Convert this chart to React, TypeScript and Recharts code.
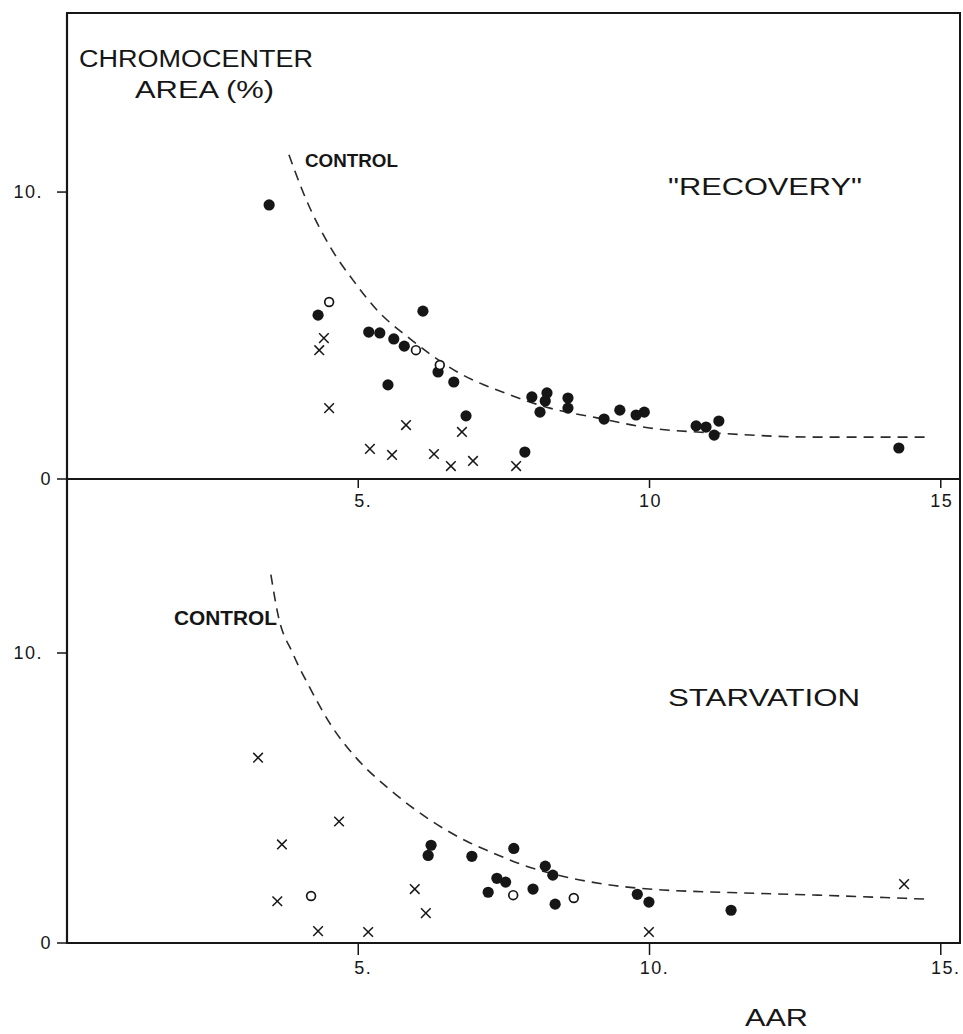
import React from "react";
import { ComposedChart, Scatter, Line, XAxis, YAxis, ReferenceArea } from "recharts";

// ---------- DATA ----------
const xTicks = [5, 10, 15];
const yTicks = [0, 10];
const topXTickLabels: Record<number, string> = { 5: "5.", 10: "10", 15: "15" };
const bottomXTickLabels: Record<number, string> = { 5: "5.", 10: "10.", 15: "15." };
const topYTickLabels: Record<number, string> = { 0: "0", 10: "10." };
const bottomYTickLabels: Record<number, string> = { 0: "0", 10: "10." };

const recoveryFilled = [
  { x: 3.47, y: 9.55 }, { x: 4.31, y: 5.71 }, { x: 6.11, y: 5.85 }, { x: 5.18, y: 5.12 },
  { x: 5.37, y: 5.09 }, { x: 5.61, y: 4.88 }, { x: 5.79, y: 4.63 }, { x: 5.51, y: 3.28 },
  { x: 6.37, y: 3.73 }, { x: 6.64, y: 3.38 }, { x: 6.85, y: 2.2 }, { x: 7.86, y: 0.94 },
  { x: 7.98, y: 2.86 }, { x: 8.12, y: 2.33 }, { x: 8.21, y: 2.72 }, { x: 8.24, y: 3.0 },
  { x: 8.6, y: 2.82 }, { x: 8.6, y: 2.47 }, { x: 9.22, y: 2.09 }, { x: 9.49, y: 2.4 },
  { x: 9.77, y: 2.23 }, { x: 9.91, y: 2.33 }, { x: 10.8, y: 1.85 }, { x: 10.97, y: 1.81 },
  { x: 11.11, y: 1.53 }, { x: 11.19, y: 2.02 }, { x: 14.28, y: 1.08 },
];
const recoveryOpen = [
  { x: 4.5, y: 6.17 }, { x: 5.99, y: 4.49 }, { x: 6.4, y: 3.97 },
];
const recoveryCross = [
  { x: 4.41, y: 4.91 }, { x: 4.33, y: 4.49 }, { x: 4.5, y: 2.47 }, { x: 5.82, y: 1.88 },
  { x: 5.2, y: 1.05 }, { x: 5.58, y: 0.84 }, { x: 6.3, y: 0.87 }, { x: 6.59, y: 0.45 },
  { x: 6.97, y: 0.63 }, { x: 6.78, y: 1.64 }, { x: 7.71, y: 0.45 },
];
const recoveryControl = [
  { x: 3.81, y: 11.3 }, { x: 4.06, y: 9.96 }, { x: 4.52, y: 8.08 }, { x: 4.91, y: 6.93 },
  { x: 5.32, y: 5.89 }, { x: 5.85, y: 4.95 }, { x: 6.7, y: 3.73 }, { x: 7.61, y: 2.93 },
  { x: 8.29, y: 2.47 }, { x: 9.1, y: 2.13 }, { x: 10.0, y: 1.78 }, { x: 11.15, y: 1.6 },
  { x: 12.87, y: 1.46 }, { x: 14.81, y: 1.46 },
];

const starvationFilled = [
  { x: 6.25, y: 3.37 }, { x: 6.2, y: 3.02 }, { x: 6.95, y: 2.99 }, { x: 7.67, y: 3.26 },
  { x: 7.23, y: 1.75 }, { x: 7.38, y: 2.23 }, { x: 7.53, y: 2.1 }, { x: 8.0, y: 1.86 },
  { x: 8.21, y: 2.65 }, { x: 8.34, y: 2.34 }, { x: 8.38, y: 1.34 }, { x: 9.79, y: 1.68 },
  { x: 9.99, y: 1.41 }, { x: 11.4, y: 1.13 },
];
const starvationOpen = [
  { x: 4.19, y: 1.62 }, { x: 7.66, y: 1.65 }, { x: 8.7, y: 1.55 },
];
const starvationCross = [
  { x: 3.28, y: 6.39 }, { x: 4.67, y: 4.19 }, { x: 3.69, y: 3.4 }, { x: 3.61, y: 1.44 },
  { x: 4.31, y: 0.41 }, { x: 5.17, y: 0.38 }, { x: 5.97, y: 1.86 }, { x: 6.16, y: 1.03 },
  { x: 9.99, y: 0.38 }, { x: 14.37, y: 2.03 },
];
const starvationControl = [
  { x: 3.5, y: 12.7 }, { x: 3.62, y: 11.34 }, { x: 3.88, y: 9.97 }, { x: 4.17, y: 8.8 },
  { x: 4.52, y: 7.55 }, { x: 4.98, y: 6.35 }, { x: 5.55, y: 5.28 }, { x: 6.28, y: 4.18 },
  { x: 6.87, y: 3.5 }, { x: 7.26, y: 3.15 }, { x: 7.9, y: 2.64 }, { x: 8.58, y: 2.27 },
  { x: 9.32, y: 2.0 }, { x: 10.23, y: 1.83 }, { x: 11.38, y: 1.74 }, { x: 12.88, y: 1.65 },
  { x: 14.78, y: 1.51 },
];

// ---------- STYLE ----------
const FONT = "'Liberation Sans', Arial, Helvetica, sans-serif";
const INK = "#161616";
const X_DOMAIN: [number, number] = [0, 15.33];

const FilledDot = (p: any) => <circle cx={p.cx} cy={p.cy} r={5.6} fill={INK} />;
const OpenDot = (p: any) => (
  <circle cx={p.cx} cy={p.cy} r={4.4} fill="#fff" stroke={INK} strokeWidth={1.7} />
);
const Cross = (p: any) => {
  const s = 4.8;
  return (
    <g stroke={INK} strokeWidth={1.5}>
      <line x1={p.cx - s} y1={p.cy - s} x2={p.cx + s} y2={p.cy + s} />
      <line x1={p.cx - s} y1={p.cy + s} x2={p.cx + s} y2={p.cy - s} />
    </g>
  );
};

const makeXTick = (labels: Record<number, string>) => (props: any) => {
  const { x, y, payload } = props;
  const txt = labels[payload.value] ?? String(payload.value);
  const dx = txt.endsWith(".") ? 5 : 1;
  return (
    <text x={x + dx} y={y + 17} textAnchor="middle" fontSize={18} letterSpacing={1.5} fontFamily={FONT} fill={INK}>
      {txt}
    </text>
  );
};
const makeYTick = (labels: Record<number, string>) => (props: any) => {
  const { x, y, payload } = props;
  const txt = labels[payload.value] ?? String(payload.value);
  const dx = txt.endsWith(".") ? 0 : 9;
  return (
    <text x={x + dx} y={y + 6} textAnchor="end" fontSize={18} letterSpacing={1.5} fontFamily={FONT} fill={INK}>
      {txt}
    </text>
  );
};

type PanelProps = {
  top: number;
  height: number;
  margin: { top: number; right: number; bottom: number; left: number };
  yMax: number;
  xTickSize: number;
  filled: { x: number; y: number }[];
  open: { x: number; y: number }[];
  cross: { x: number; y: number }[];
  control: { x: number; y: number }[];
  xLabels: Record<number, string>;
  yLabels: Record<number, string>;
};

const Panel = (p: PanelProps) => (
  <div style={{ position: "absolute", left: 0, top: p.top }}>
    <ComposedChart width={963} height={p.height} margin={p.margin}>
      <XAxis
        dataKey="x"
        type="number"
        domain={X_DOMAIN}
        allowDataOverflow
        ticks={xTicks}
        height={30}
        tickSize={p.xTickSize}
        tickMargin={2}
        axisLine={{ stroke: INK, strokeWidth: 2.2 }}
        tickLine={{ stroke: INK, strokeWidth: 1.5 }}
        tick={makeXTick(p.xLabels)}
      />
      <YAxis
        dataKey="y"
        type="number"
        domain={[0, p.yMax]}
        allowDataOverflow
        ticks={yTicks}
        width={60}
        tickSize={10}
        tickMargin={14}
        axisLine={{ stroke: INK, strokeWidth: 2.2 }}
        tickLine={{ stroke: INK, strokeWidth: 1.5 }}
        tick={makeYTick(p.yLabels)}
      />
      <ReferenceArea
        x1={X_DOMAIN[0]}
        x2={X_DOMAIN[1]}
        y1={0}
        y2={p.yMax}
        fill="none"
        fillOpacity={0}
        stroke={INK}
        strokeWidth={2}
        ifOverflow="visible"
      />
      <Line
        data={p.control}
        dataKey="y"
        type="monotone"
        stroke="#2a2a2a"
        strokeWidth={1.6}
        strokeDasharray="10 7"
        dot={false}
        activeDot={false}
        isAnimationActive={false}
      />
      <Scatter data={p.filled} dataKey="y" shape={FilledDot} isAnimationActive={false} />
      <Scatter data={p.open} dataKey="y" shape={OpenDot} isAnimationActive={false} />
      <Scatter data={p.cross} dataKey="y" shape={Cross} isAnimationActive={false} />
    </ComposedChart>
  </div>
);

export default function App() {
  return (
    <div style={{ position: "absolute", left: 0, top: 0, width: 963, height: 1034, background: "#fff" }}>
      <Panel
        top={0}
        height={520}
        margin={{ top: 13, right: 3, bottom: 11, left: 7 }}
        yMax={16.24}
        xTickSize={9}
        filled={recoveryFilled}
        open={recoveryOpen}
        cross={recoveryCross}
        control={recoveryControl}
        xLabels={topXTickLabels}
        yLabels={topYTickLabels}
      />
      <Panel
        top={470}
        height={564}
        margin={{ top: 9, right: 3, bottom: 61, left: 7 }}
        yMax={16}
        xTickSize={12}
        filled={starvationFilled}
        open={starvationOpen}
        cross={starvationCross}
        control={starvationControl}
        xLabels={bottomXTickLabels}
        yLabels={bottomYTickLabels}
      />
      <svg
        width={963}
        height={1034}
        style={{ position: "absolute", left: 0, top: 0, pointerEvents: "none" }}
        fontFamily={FONT}
        fill={INK}
      >
        <text x={79} y={67} fontSize={23} textLength={234} lengthAdjust="spacingAndGlyphs">
          CHROMOCENTER
        </text>
        <text x={135} y={98} fontSize={23} textLength={139} lengthAdjust="spacingAndGlyphs">
          AREA (%)
        </text>
        <text x={305} y={167} fontSize={18} fontWeight="bold" textLength={93} lengthAdjust="spacingAndGlyphs">
          CONTROL
        </text>
        <text x={668} y={195} fontSize={24} textLength={194} lengthAdjust="spacingAndGlyphs">
          "RECOVERY"
        </text>
        <text x={174} y={625} fontSize={20} fontWeight="bold" textLength={103} lengthAdjust="spacingAndGlyphs">
          CONTROL
        </text>
        <text x={668} y={706} fontSize={24} textLength={192} lengthAdjust="spacingAndGlyphs">
          STARVATION
        </text>
        <text x={745} y={1026} fontSize={24} textLength={63} lengthAdjust="spacingAndGlyphs">
          AAR
        </text>
      </svg>
    </div>
  );
}
